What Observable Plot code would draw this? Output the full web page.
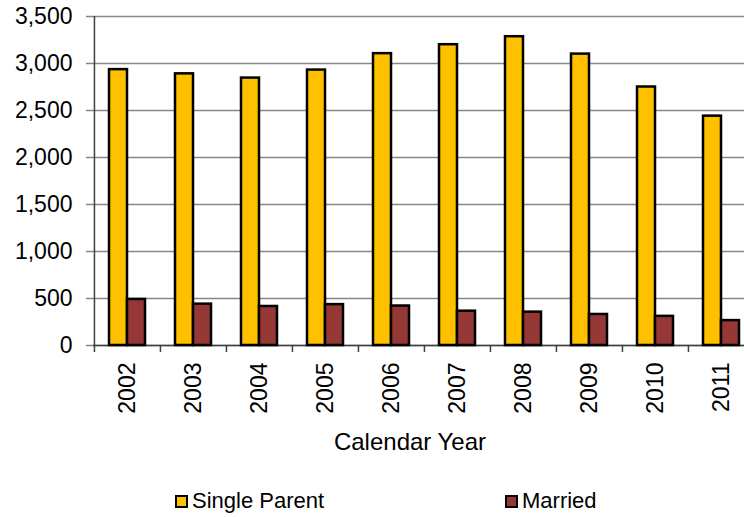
<!DOCTYPE html>
<html>
<head>
<meta charset="utf-8">
<script src="https://cdn.jsdelivr.net/npm/d3@7"></script>
<script src="https://cdn.jsdelivr.net/npm/@observablehq/plot@0.6"></script>
<style>
  body { margin: 0; background: #fff; font-family: "Liberation Sans", Arial, sans-serif; }
  #wrap { width: 744px; height: 517px; position: relative; overflow: hidden; }
  #legend { position: relative; width: 744px; height: 47px; }
  .item { position: absolute; top: 18px; display: flex; align-items: center; font-size: 22px; color: #000; line-height: 26px; }
  .sw { box-sizing: border-box; width: 13px; height: 13px; border: 2px solid #000; margin-right: 4px; }
</style>
</head>
<body>
<div id="wrap"></div>
<script>
const years = ["2002", "2003", "2004", "2005", "2006", "2007", "2008", "2009", "2010", "2011"];
const singleParent = [2935, 2890, 2845, 2930, 3105, 3200, 3285, 3100, 2750, 2440];
const married = [490, 440, 415, 435, 420, 365, 355, 330, 310, 265];
const yTicks = [0, 500, 1000, 1500, 2000, 2500, 3000, 3500];
const seriesNames = ["Single Parent", "Married"];
const seriesColors = ["#FFC000", "#953735"];
const axisTitle = "Calendar Year";

const sp = years.map((y, i) => ({year: y, value: singleParent[i]}));
const mr = years.map((y, i) => ({year: y, value: married[i]}));

const W = 744, H = 470, ML = 93, MR = -10;
const band = (W - MR - ML) / years.length;
const fmt = d3.format(",");

const chart = Plot.plot({
  width: W, height: H,
  marginLeft: ML, marginRight: MR, marginTop: 16, marginBottom: H - 345,
  style: {fontFamily: "'Liberation Sans', Arial, sans-serif", fontSize: "23px", color: "#000", background: "#fff", overflow: "visible"},
  x: {type: "band", domain: years, padding: 0, label: null},
  y: {domain: [0, 3500], label: null},
  marks: [
    Plot.gridY(yTicks, {stroke: "#868686", strokeOpacity: 1, strokeWidth: 1.5}),
    Plot.axisY(yTicks, {tickSize: 7, tickPadding: 14, tickFormat: fmt, stroke: "#868686", strokeWidth: 1.5, label: null, fontSize: 23}),
    Plot.ruleY([0], {stroke: "#404040", strokeWidth: 1.5}),
    Plot.ruleX([years[0]], {dx: -band / 2, stroke: "#404040", strokeWidth: 1.5}),
    Plot.axisX({tickSize: 7, fill: "none", dx: -band / 2, stroke: "#404040", strokeWidth: 1.5, label: null}),
    Plot.axisX({tickSize: 0, tickPadding: 17, tickRotate: -90, label: null, fontSize: 23}),
    Plot.barY(sp, {x: "year", y: "value", fill: seriesColors[0], stroke: "#000", strokeWidth: 2.5, insetLeft: 15, insetRight: 33}),
    Plot.barY(mr, {x: "year", y: "value", fill: seriesColors[1], stroke: "#000", strokeWidth: 2.5, insetLeft: 33, insetRight: 15}),
    Plot.text([axisTitle], {frameAnchor: "bottom", lineAnchor: "middle", dy: 97, dx: -14, fontSize: 24, fill: "#000"})
  ]
});

const wrap = document.getElementById("wrap");
wrap.appendChild(chart);
const legend = document.createElement("div");
legend.id = "legend";
const lefts = [175, 505];
seriesNames.forEach((name, i) => {
  const it = document.createElement("div");
  it.className = "item";
  it.style.left = lefts[i] + "px";
  const sw = document.createElement("span");
  sw.className = "sw";
  sw.style.background = seriesColors[i];
  const t = document.createElement("span");
  t.textContent = name;
  it.appendChild(sw);
  it.appendChild(t);
  legend.appendChild(it);
});
wrap.appendChild(legend);
</script>
</body>
</html>
